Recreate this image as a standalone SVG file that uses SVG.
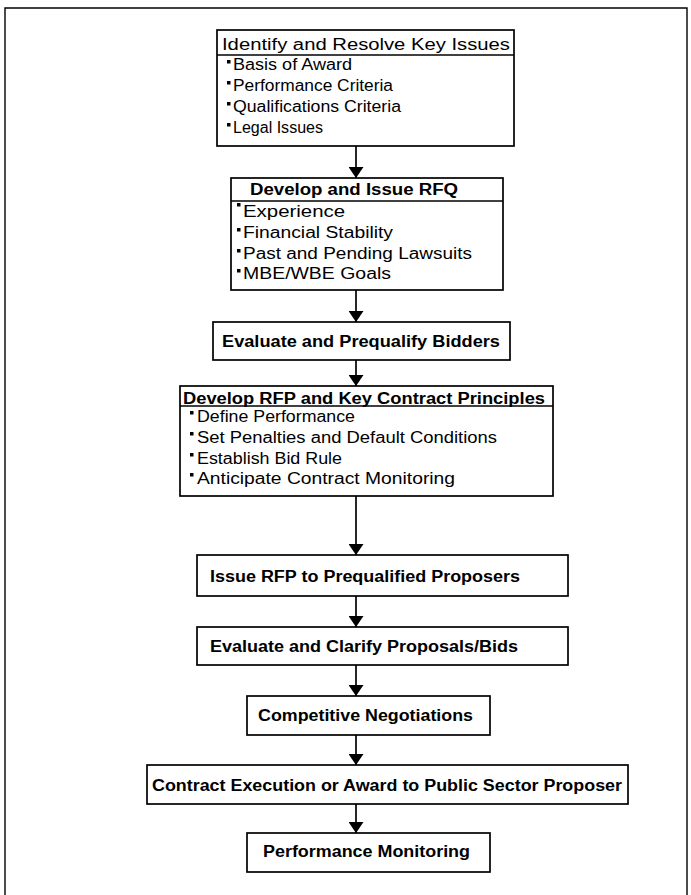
<svg xmlns="http://www.w3.org/2000/svg" width="691" height="895" viewBox="0 0 691 895">
<style>
.box{fill:#fff;stroke:#000;stroke-width:1.7}
.sep{stroke:#000;stroke-width:1.5}
.t{font-family:"Liberation Sans",Arial,sans-serif;font-size:16px;fill:#000}
.b{font-weight:bold}
.blt{fill:#000}
.conn line{stroke:#000;stroke-width:1.7}
</style>
<defs>
<marker id="ah" viewBox="0 0 11 15" refX="11" refY="7.5" markerWidth="11" markerHeight="15" markerUnits="userSpaceOnUse" orient="auto">
<path d="M0,0 L11,7.5 L0,15 Z" fill="#000"/>
</marker>
</defs>
<g id="frame">
<path d="M5,895 L5,8 L687,8 L687,895" fill="none" stroke="#000" stroke-width="1.4"/>
</g>
<g class="conn" id="connectors">
<line x1="356" y1="146" x2="356" y2="178" marker-end="url(#ah)"/>
<line x1="356" y1="290" x2="356" y2="322" marker-end="url(#ah)"/>
<line x1="356" y1="360" x2="356" y2="386" marker-end="url(#ah)"/>
<line x1="356" y1="496" x2="356" y2="555" marker-end="url(#ah)"/>
<line x1="356" y1="596" x2="356" y2="627" marker-end="url(#ah)"/>
<line x1="356" y1="665" x2="356" y2="696" marker-end="url(#ah)"/>
<line x1="356" y1="735" x2="356" y2="765" marker-end="url(#ah)"/>
<line x1="356" y1="804" x2="356" y2="833" marker-end="url(#ah)"/>
</g>
<g id="n1">
<rect class="box" x="217" y="30" width="297" height="116"/>
<line class="sep" x1="217" y1="55" x2="514" y2="55"/>
<text class="t" x="222" y="50" font-size="18" textLength="288" lengthAdjust="spacingAndGlyphs">Identify and Resolve Key Issues</text>
<rect class="blt" x="227" y="60" width="3.5" height="3.5"/>
<text class="t" x="233" y="70" font-size="17" textLength="119" lengthAdjust="spacingAndGlyphs">Basis of Award</text>
<rect class="blt" x="227" y="81" width="3.5" height="3.5"/>
<text class="t" x="233" y="91" font-size="17" textLength="160" lengthAdjust="spacingAndGlyphs">Performance Criteria</text>
<rect class="blt" x="227" y="102" width="3.5" height="3.5"/>
<text class="t" x="233" y="112" font-size="17" textLength="168" lengthAdjust="spacingAndGlyphs">Qualifications Criteria</text>
<rect class="blt" x="227" y="123" width="3.5" height="3.5"/>
<text class="t" x="233" y="133" font-size="17" textLength="90" lengthAdjust="spacingAndGlyphs">Legal Issues</text>
</g>
<g id="n2">
<rect class="box" x="231" y="178" width="272" height="112"/>
<line class="sep" x1="231" y1="201" x2="503" y2="201"/>
<text class="t b" x="250" y="195" textLength="208" lengthAdjust="spacingAndGlyphs">Develop and Issue RFQ</text>
<rect class="blt" x="237" y="203" width="3.5" height="3.5"/>
<text class="t" x="243" y="217" font-size="17" textLength="102" lengthAdjust="spacingAndGlyphs">Experience</text>
<rect class="blt" x="237" y="228" width="3.5" height="3.5"/>
<text class="t" x="243" y="238" font-size="17" textLength="150" lengthAdjust="spacingAndGlyphs">Financial Stability</text>
<rect class="blt" x="237" y="249" width="3.5" height="3.5"/>
<text class="t" x="243" y="259" font-size="17" textLength="229" lengthAdjust="spacingAndGlyphs">Past and Pending Lawsuits</text>
<rect class="blt" x="237" y="269" width="3.5" height="3.5"/>
<text class="t" x="243" y="279" font-size="17" textLength="148" lengthAdjust="spacingAndGlyphs">MBE/WBE Goals</text>
</g>
<g id="n3">
<rect class="box" x="213" y="322" width="297" height="38"/>
<text class="t b" x="222" y="347" textLength="278" lengthAdjust="spacingAndGlyphs">Evaluate and Prequalify Bidders</text>
</g>
<g id="n4">
<rect class="box" x="180" y="386" width="373" height="110"/>
<line class="sep" x1="180" y1="406" x2="553" y2="406"/>
<text class="t b" x="183" y="404" font-size="17" textLength="362" lengthAdjust="spacingAndGlyphs">Develop RFP and Key Contract Principles</text>
<rect class="blt" x="190" y="411" width="3.5" height="3.5"/>
<text class="t" x="197" y="422" font-size="17" textLength="158" lengthAdjust="spacingAndGlyphs">Define Performance</text>
<rect class="blt" x="190" y="432" width="3.5" height="3.5"/>
<text class="t" x="197" y="443" font-size="17" textLength="300" lengthAdjust="spacingAndGlyphs">Set Penalties and Default Conditions</text>
<rect class="blt" x="190" y="453" width="3.5" height="3.5"/>
<text class="t" x="197" y="464" font-size="17" textLength="145" lengthAdjust="spacingAndGlyphs">Establish Bid Rule</text>
<rect class="blt" x="190" y="473" width="3.5" height="3.5"/>
<text class="t" x="197" y="484" font-size="17" textLength="258" lengthAdjust="spacingAndGlyphs">Anticipate Contract Monitoring</text>
</g>
<g id="n5">
<rect class="box" x="197" y="555" width="371" height="41"/>
<text class="t b" x="210" y="582" textLength="310" lengthAdjust="spacingAndGlyphs">Issue RFP to Prequalified Proposers</text>
</g>
<g id="n6">
<rect class="box" x="197" y="627" width="371" height="38"/>
<text class="t b" x="210" y="652" textLength="308" lengthAdjust="spacingAndGlyphs">Evaluate and Clarify Proposals/Bids</text>
</g>
<g id="n7">
<rect class="box" x="247" y="696" width="243" height="39"/>
<text class="t b" x="258" y="721" textLength="215" lengthAdjust="spacingAndGlyphs">Competitive Negotiations</text>
</g>
<g id="n8">
<rect class="box" x="147" y="765" width="481" height="39"/>
<text class="t b" x="152" y="791" textLength="470" lengthAdjust="spacingAndGlyphs">Contract Execution or Award to Public Sector Proposer</text>
</g>
<g id="n9">
<rect class="box" x="247" y="833" width="243" height="39"/>
<text class="t b" x="263" y="857" textLength="207" lengthAdjust="spacingAndGlyphs">Performance Monitoring</text>
</g>
</svg>
